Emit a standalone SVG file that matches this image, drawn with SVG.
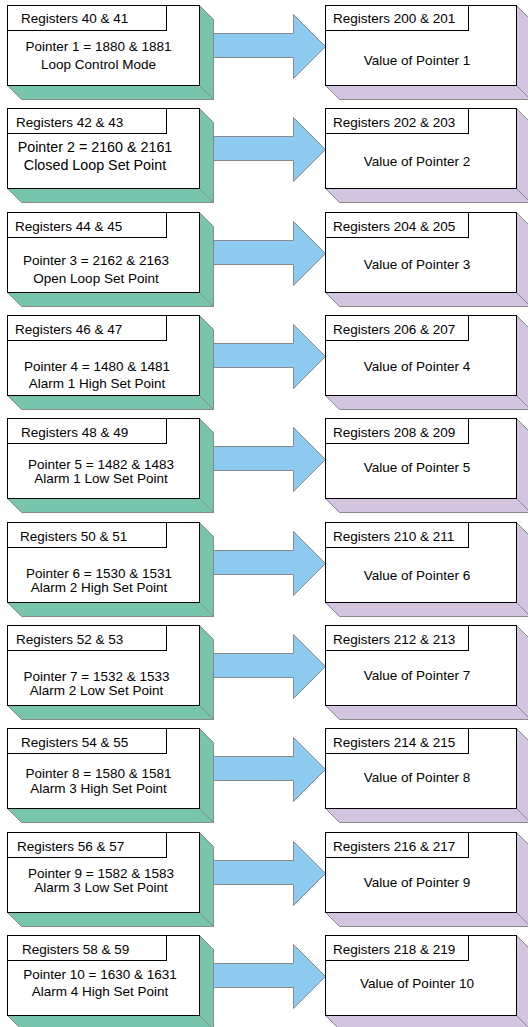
<svg xmlns="http://www.w3.org/2000/svg" width="528" height="1027" viewBox="0 0 528 1027">
<defs>
<style>
.bg{fill:#ffffff}
.gf{fill:#78c5ae;stroke:#8a8a8a;stroke-width:1}
.pf{fill:#d3c4e0;stroke:#8a8a8a;stroke-width:1}
.fr{fill:#ffffff;stroke:#000000;stroke-width:1}
.ar{fill:#8dcaf0;stroke:#8a8a8a;stroke-width:1}
text{font-family:"Liberation Sans",Arial,sans-serif;font-size:13.5px;fill:#000000}
.c{text-anchor:middle}
.big{font-size:14.3px}
</style>
<g id="leftbox">
<polygon class="gf" points="7,80 199,80 213,94 21,94"/>
<polygon class="gf" points="199,0 213,14 213,94 199,80"/>
<rect class="fr" x="7" y="0" width="192" height="80"/>
<rect class="fr" x="7" y="0" width="159" height="25"/>
</g>
<g id="rightbox">
<polygon class="pf" points="325,80 516,80 530,94 339,94"/>
<polygon class="pf" points="516,0 530,14 530,94 516,80"/>
<rect class="fr" x="325" y="0" width="191" height="80"/>
<rect class="fr" x="325" y="0" width="143" height="25"/>
</g>
<polygon id="arrow" class="ar" points="210,28 293,28 293,9 325,41 293,73 293,52 210,52"/>
</defs>
<rect class="bg" x="0" y="0" width="528" height="1027"/>
<g id="connectors">
<use href="#arrow" transform="translate(0.5,5.5)"/>
<use href="#arrow" transform="translate(0.5,108.5)"/>
<use href="#arrow" transform="translate(0.5,212.5)"/>
<use href="#arrow" transform="translate(0.5,315.5)"/>
<use href="#arrow" transform="translate(0.5,418.5)"/>
<use href="#arrow" transform="translate(0.5,522.5)"/>
<use href="#arrow" transform="translate(0.5,625.5)"/>
<use href="#arrow" transform="translate(0.5,728.5)"/>
<use href="#arrow" transform="translate(0.5,832.5)"/>
<use href="#arrow" transform="translate(0.5,935.5)"/>
</g>
<g id="src1"><use href="#leftbox" transform="translate(0.5,5.5)"/><text x="21" y="23">Registers 40 &amp; 41</text><text class="c" x="98.5" y="51">Pointer 1 = 1880 &amp; 1881</text><text class="c" x="98.5" y="68.5">Loop Control Mode</text></g>
<g id="dst1"><use href="#rightbox" transform="translate(0.5,5.5)"/><text x="333" y="23">Registers 200 &amp; 201</text><text class="c" x="417" y="64.5">Value of Pointer 1</text></g>
<g id="src2"><use href="#leftbox" transform="translate(0.5,108.5)"/><text x="16" y="127">Registers 42 &amp; 43</text><text class="c big" x="95" y="151.5">Pointer 2 = 2160 &amp; 2161</text><text class="c big" x="95" y="170">Closed Loop Set Point</text></g>
<g id="dst2"><use href="#rightbox" transform="translate(0.5,108.5)"/><text x="333" y="127">Registers 202 &amp; 203</text><text class="c" x="417" y="166">Value of Pointer 2</text></g>
<g id="src3"><use href="#leftbox" transform="translate(0.5,212.5)"/><text x="15" y="231">Registers 44 &amp; 45</text><text class="c" x="96" y="265">Pointer 3 = 2162 &amp; 2163</text><text class="c" x="96" y="283">Open Loop Set Point</text></g>
<g id="dst3"><use href="#rightbox" transform="translate(0.5,212.5)"/><text x="333" y="231">Registers 204 &amp; 205</text><text class="c" x="417" y="269">Value of Pointer 3</text></g>
<g id="src4"><use href="#leftbox" transform="translate(0.5,315.5)"/><text x="15" y="334">Registers 46 &amp; 47</text><text class="c" x="97" y="370.5">Pointer 4 = 1480 &amp; 1481</text><text class="c" x="97" y="388">Alarm 1 High Set Point</text></g>
<g id="dst4"><use href="#rightbox" transform="translate(0.5,315.5)"/><text x="333" y="334">Registers 206 &amp; 207</text><text class="c" x="417" y="371">Value of Pointer 4</text></g>
<g id="src5"><use href="#leftbox" transform="translate(0.5,418.5)"/><text x="21" y="437">Registers 48 &amp; 49</text><text class="c" x="101" y="469">Pointer 5 = 1482 &amp; 1483</text><text class="c" x="101" y="483">Alarm 1 Low Set Point</text></g>
<g id="dst5"><use href="#rightbox" transform="translate(0.5,418.5)"/><text x="333" y="437">Registers 208 &amp; 209</text><text class="c" x="417" y="472">Value of Pointer 5</text></g>
<g id="src6"><use href="#leftbox" transform="translate(0.5,522.5)"/><text x="20" y="541">Registers 50 &amp; 51</text><text class="c" x="99" y="577.5">Pointer 6 = 1530 &amp; 1531</text><text class="c" x="99" y="592">Alarm 2 High Set Point</text></g>
<g id="dst6"><use href="#rightbox" transform="translate(0.5,522.5)"/><text x="333" y="541">Registers 210 &amp; 211</text><text class="c" x="417" y="579.5">Value of Pointer 6</text></g>
<g id="src7"><use href="#leftbox" transform="translate(0.5,625.5)"/><text x="16" y="644">Registers 52 &amp; 53</text><text class="c" x="96.5" y="680.5">Pointer 7 = 1532 &amp; 1533</text><text class="c" x="96.5" y="694.5">Alarm 2 Low Set Point</text></g>
<g id="dst7"><use href="#rightbox" transform="translate(0.5,625.5)"/><text x="333" y="644">Registers 212 &amp; 213</text><text class="c" x="417" y="680">Value of Pointer 7</text></g>
<g id="src8"><use href="#leftbox" transform="translate(0.5,728.5)"/><text x="21" y="747">Registers 54 &amp; 55</text><text class="c" x="98.5" y="778">Pointer 8 = 1580 &amp; 1581</text><text class="c" x="98.5" y="792.5">Alarm 3 High Set Point</text></g>
<g id="dst8"><use href="#rightbox" transform="translate(0.5,728.5)"/><text x="333" y="747">Registers 214 &amp; 215</text><text class="c" x="417" y="782">Value of Pointer 8</text></g>
<g id="src9"><use href="#leftbox" transform="translate(0.5,832.5)"/><text x="17" y="851">Registers 56 &amp; 57</text><text class="c" x="101" y="877.5">Pointer 9 = 1582 &amp; 1583</text><text class="c" x="101" y="891.5">Alarm 3 Low Set Point</text></g>
<g id="dst9"><use href="#rightbox" transform="translate(0.5,832.5)"/><text x="333" y="851">Registers 216 &amp; 217</text><text class="c" x="417" y="887">Value of Pointer 9</text></g>
<g id="src10"><use href="#leftbox" transform="translate(0.5,935.5)"/><text x="22" y="954">Registers 58 &amp; 59</text><text class="c" x="100" y="979">Pointer 10 = 1630 &amp; 1631</text><text class="c" x="100" y="996">Alarm 4 High Set Point</text></g>
<g id="dst10"><use href="#rightbox" transform="translate(0.5,935.5)"/><text x="333" y="954">Registers 218 &amp; 219</text><text class="c" x="417" y="988">Value of Pointer 10</text></g>
</svg>
